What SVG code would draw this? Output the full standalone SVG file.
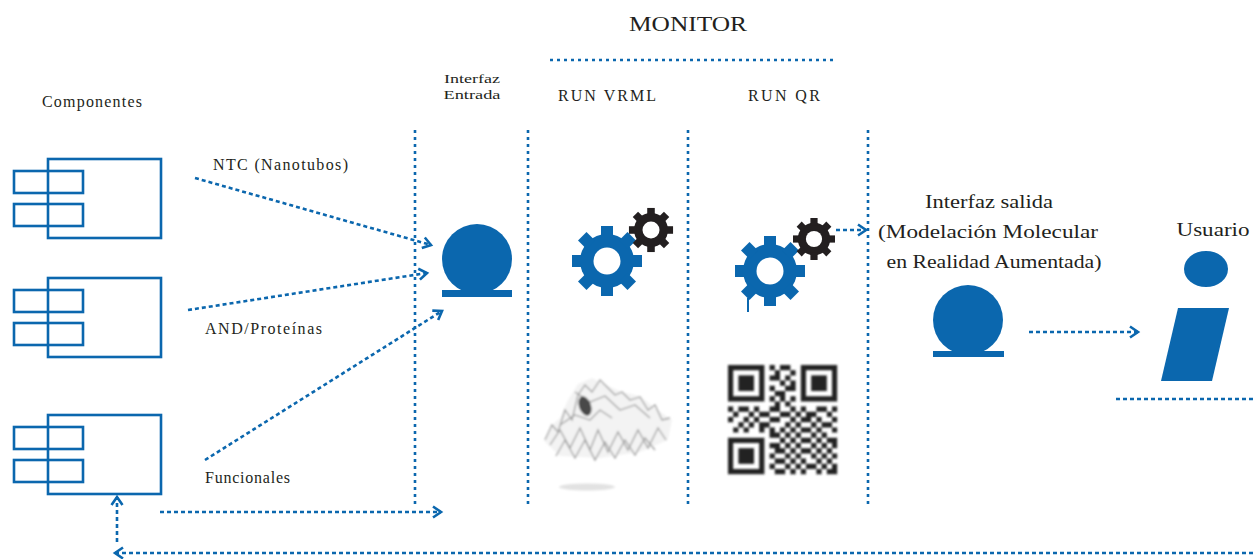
<svg xmlns="http://www.w3.org/2000/svg" width="1253" height="559" viewBox="0 0 1253 559">
  <style>
    text { font-family: "Liberation Serif", "DejaVu Serif", serif; fill: #231f20; }
    .comp { fill: none; stroke: #0b67ae; stroke-width: 2.6; }
    .sep { fill: none; stroke: #0b67ae; stroke-width: 2.6; stroke-dasharray: 3 4; }
    .flow { fill: none; stroke: #0b67ae; stroke-width: 2.6; stroke-dasharray: 4 3; }
    .solid { fill: #0b67ae; }
  </style>
  <defs>
    <marker id="chev" markerUnits="userSpaceOnUse" markerWidth="14" markerHeight="16" refX="10" refY="7" orient="auto">
      <path d="M2,1.5 L10,7 L2,12.5" fill="none" stroke="#0b67ae" stroke-width="2.6"/>
    </marker>
    <!-- gear of outer radius 35 centred on the origin -->
    <g id="gear">
      <circle r="27"/>
      <g>
        <rect x="-6" y="-35" width="12" height="12"/>
        <rect x="-6" y="-35" width="12" height="12" transform="rotate(45)"/>
        <rect x="-6" y="-35" width="12" height="12" transform="rotate(90)"/>
        <rect x="-6" y="-35" width="12" height="12" transform="rotate(135)"/>
        <rect x="-6" y="-35" width="12" height="12" transform="rotate(180)"/>
        <rect x="-6" y="-35" width="12" height="12" transform="rotate(225)"/>
        <rect x="-6" y="-35" width="12" height="12" transform="rotate(270)"/>
        <rect x="-6" y="-35" width="12" height="12" transform="rotate(315)"/>
      </g>
      <circle r="13.5" fill="#ffffff"/>
    </g>
    <g id="component">
      <rect x="48" y="0" width="113" height="79"/>
      <rect x="14" y="12" width="69" height="22"/>
      <rect x="14" y="45" width="69" height="22"/>
    </g>
    <filter id="soft" x="-10%" y="-10%" width="120%" height="120%">
      <feGaussianBlur stdDeviation="1.1"/>
    </filter>
    <filter id="qrsoft" x="-5%" y="-5%" width="110%" height="110%">
      <feGaussianBlur stdDeviation="0.8"/>
    </filter>
  </defs>

  <rect width="1253" height="559" fill="#ffffff"/>

  <!-- titles -->
  <g id="monitor">
    <text x="688" y="31" font-size="21" text-anchor="middle" textLength="118" lengthAdjust="spacingAndGlyphs">MONITOR</text>
    <line class="sep" x1="550" y1="60" x2="836" y2="60"/>
  </g>

  <!-- columns -->
  <g id="columns">
    <line class="sep" x1="415" y1="130" x2="415" y2="504"/>
    <line class="sep" x1="528" y1="130" x2="528" y2="506"/>
    <line class="sep" x1="688" y1="130" x2="688" y2="506"/>
    <line class="sep" x1="868" y1="130" x2="868" y2="506"/>
  </g>

  <!-- components -->
  <g id="componentes">
    <text x="42" y="107" font-size="16" textLength="100" lengthAdjust="spacing">Componentes</text>
    <use href="#component" class="comp" transform="translate(0,159)"/>
    <use href="#component" class="comp" transform="translate(0,278)"/>
    <use href="#component" class="comp" transform="translate(0,415)"/>
    <text x="213" y="170" font-size="16" textLength="135" lengthAdjust="spacing">NTC (Nanotubos)</text>
    <text x="205" y="334" font-size="16" textLength="117" lengthAdjust="spacing">AND/Proteínas</text>
    <text x="205" y="483" font-size="16" textLength="85" lengthAdjust="spacing">Funcionales</text>
  </g>

  <!-- input interface -->
  <g id="interfaz-entrada">
    <text x="472" y="83" font-size="13.5" text-anchor="middle" textLength="56" lengthAdjust="spacingAndGlyphs">Interfaz</text>
    <text x="472" y="99" font-size="13.5" text-anchor="middle" textLength="57" lengthAdjust="spacingAndGlyphs">Entrada</text>
    <circle class="solid" cx="477" cy="259" r="35"/>
    <rect class="solid" x="442" y="290" width="70" height="7"/>
  </g>

  <!-- RUN VRML -->
  <g id="run-vrml">
    <text x="607" y="101" font-size="16" text-anchor="middle" textLength="98" lengthAdjust="spacing">RUN VRML</text>
    <use href="#gear" fill="#0b67ae" transform="translate(607,261)"/>
    <use href="#gear" fill="#231f20" transform="translate(651,230) scale(0.63)"/>
    <g id="molecule" filter="url(#soft)">
      <path d="M545,442 L552,425 L560,418 L568,400 L578,384 L592,378 L606,385 L622,392 L640,396 L655,408 L672,420 L668,440 L640,452 L600,458 L560,456 Z" fill="#f3f3f3"/>
      <g fill="none" stroke="#a0a0a0" stroke-width="1.3">
        <path d="M545,440 L552,425 L558,432 L565,410 L572,420 L578,395 L585,385 L592,392 L600,380 L608,388 L615,395 L622,392 L630,400 L640,397 L648,410 L655,405 L662,420 L670,418"/>
        <path d="M550,445 L560,430 L570,448 L580,428 L590,450 L598,430 L608,452 L618,432 L628,450 L638,430 L648,448 L658,428 L666,440"/>
        <path d="M556,456 L565,440 L575,458 L585,440 L595,460 L605,442 L615,458 L625,440 L635,455 L645,438 L655,450"/>
        <path d="M575,392 L590,402 L605,396 L620,410 L635,405 L650,418"/>
        <path d="M560,425 L575,415 L590,420 L600,410 L612,418"/>
      </g>
      <ellipse cx="585" cy="406" rx="6" ry="10" transform="rotate(-20 585 406)" fill="#4a4a4a"/>
      <ellipse cx="587" cy="487" rx="28" ry="3.5" fill="#e2e2e2"/>
    </g>
  </g>

  <!-- RUN QR -->
  <g id="run-qr">
    <text x="784" y="101" font-size="16" text-anchor="middle" textLength="72" lengthAdjust="spacing">RUN QR</text>
    <use href="#gear" fill="#0b67ae" transform="translate(770,271)"/>
    <line x1="748" y1="298" x2="748" y2="312" stroke="#0b67ae" stroke-width="2"/>
    <use href="#gear" fill="#231f20" transform="translate(814,239) scale(0.6)"/>
    <g filter="url(#qrsoft)">
      <g id="qr" transform="translate(728,365) scale(5.2)">
        <g fill="#222222" fill-rule="evenodd">
          <path d="M0,0h7v7h-7z M1,1v5h5v-5z"/>
          <rect x="2" y="2" width="3" height="3"/>
          <path d="M14,0h7v7h-7z M15,1v5h5v-5z"/>
          <rect x="16" y="2" width="3" height="3"/>
          <path d="M0,14h7v7h-7z M1,15v5h5v-5z"/>
          <rect x="2" y="16" width="3" height="3"/>
        </g>
        <path fill="none" stroke="#222222" stroke-width="1" d="M8 .5h1M10 .5h2M9 1.5h1M12 1.5h1M8 2.5h2M11 2.5h1M10 3.5h1M12 3.5h1M8 4.5h1M11 4.5h2M9 5.5h2M8 6.5h1M10 6.5h1M12 6.5h1M9 7.5h1M11 7.5h1M0 8.5h1M2 8.5h2M5 8.5h1M8 8.5h2M12 8.5h1M14 8.5h1M17 8.5h2M20 8.5h1M1 9.5h1M4 9.5h1M6 9.5h2M10 9.5h2M13 9.5h1M15 9.5h2M19 9.5h1M0 10.5h1M3 10.5h1M5 10.5h1M8 10.5h2M12 10.5h1M14 10.5h2M17 10.5h1M20 10.5h1M2 11.5h1M4 11.5h1M6 11.5h2M11 11.5h1M13 11.5h1M16 11.5h1M18 11.5h2M1 12.5h1M3 12.5h1M6 12.5h1M8 12.5h1M10 12.5h1M12 12.5h1M14 12.5h2M17 12.5h1M20 12.5h1M8 13.5h2M11 13.5h1M13 13.5h1M16 13.5h1M18 13.5h1M10 14.5h1M12 14.5h1M14 14.5h2M17 14.5h1M19 14.5h2M8 15.5h2M11 15.5h1M13 15.5h1M16 15.5h1M18 15.5h1M20 15.5h1M9 16.5h2M12 16.5h1M14 16.5h2M17 16.5h1M19 16.5h1M8 17.5h1M11 17.5h1M13 17.5h1M16 17.5h1M18 17.5h1M20 17.5h1M9 18.5h2M12 18.5h1M14 18.5h1M17 18.5h1M19 18.5h1M8 19.5h1M11 19.5h1M13 19.5h1M15 19.5h2M18 19.5h1M20 19.5h1M9 20.5h2M12 20.5h1M14 20.5h1M17 20.5h1M19 20.5h2"/>
      </g>
    </g>
  </g>

  <!-- output interface -->
  <g id="interfaz-salida">
    <text x="989" y="208" font-size="19" text-anchor="middle" textLength="128" lengthAdjust="spacingAndGlyphs">Interfaz salida</text>
    <text x="988" y="238" font-size="19" text-anchor="middle" textLength="220" lengthAdjust="spacingAndGlyphs">(Modelación Molecular</text>
    <text x="994" y="268" font-size="19" text-anchor="middle" textLength="215" lengthAdjust="spacingAndGlyphs">en Realidad Aumentada)</text>
    <circle class="solid" cx="968" cy="320" r="35"/>
    <rect class="solid" x="933" y="351" width="71" height="6"/>
  </g>

  <!-- user -->
  <g id="usuario">
    <text x="1213" y="236" font-size="19" text-anchor="middle" textLength="73" lengthAdjust="spacingAndGlyphs">Usuario</text>
    <ellipse class="solid" cx="1206" cy="269" rx="22" ry="18"/>
    <polygon class="solid" points="1178,308 1229,308 1212,381 1161,381"/>
    <line class="flow" x1="1116" y1="399" x2="1253" y2="399"/>
  </g>

  <!-- connectors -->
  <g id="connectors">
    <path class="flow" d="M195,178 L431,245" marker-end="url(#chev)"/>
    <path class="flow" d="M188,310 L427,273" marker-end="url(#chev)"/>
    <path class="flow" d="M205,460 L442,311" marker-end="url(#chev)"/>
    <path class="flow" d="M160,512 L441,512" marker-end="url(#chev)"/>
    <path class="flow" d="M1253,553 L115,553" marker-end="url(#chev)"/>
    <path class="flow" d="M117,542 L117,497" marker-end="url(#chev)"/>
    <path class="flow" d="M836,230 L866,230" marker-end="url(#chev)"/>
    <path class="flow" d="M1029,332 L1138,332" marker-end="url(#chev)"/>
  </g>
</svg>
